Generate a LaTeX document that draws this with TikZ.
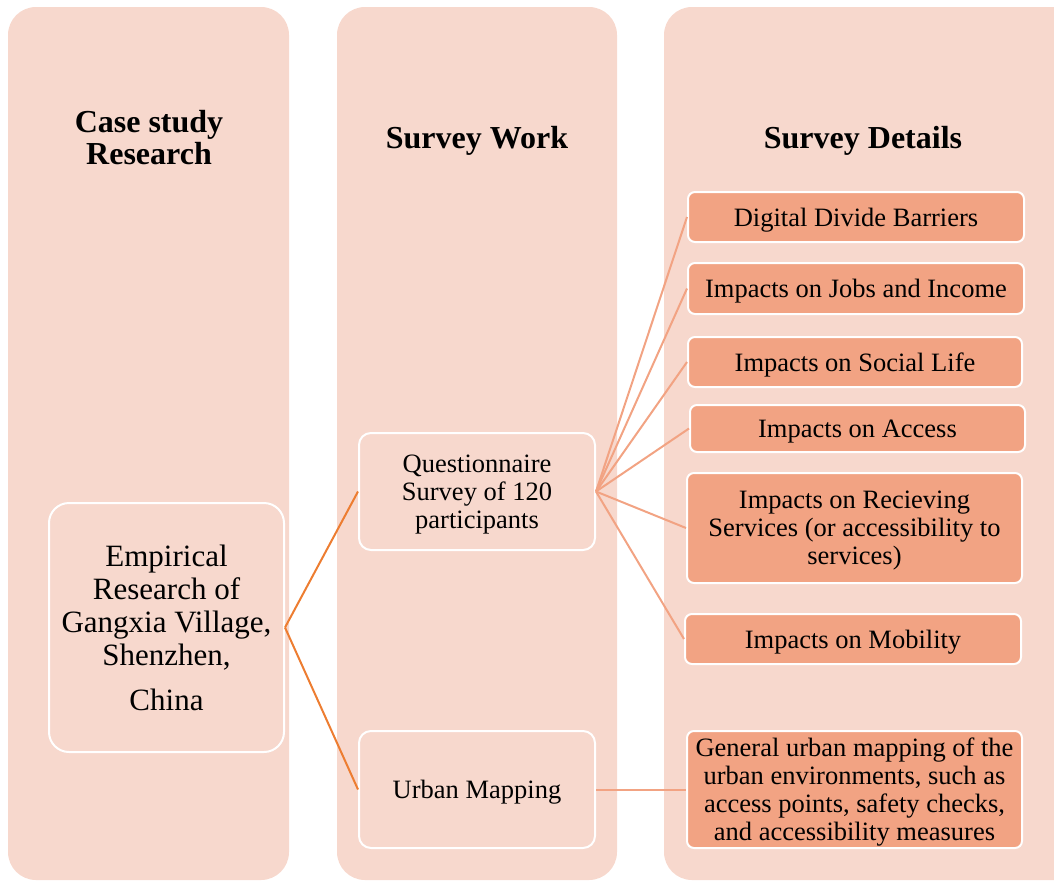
\documentclass[tikz,border=0pt]{standalone}
\usepackage{fontspec}
\setmainfont{Liberation Serif}
\definecolor{colfill}{HTML}{F7D8CD}
\definecolor{boxfill}{HTML}{F2A383}
\definecolor{linkorange}{HTML}{ED7D31}
\tikzset{
  column/.style={rectangle, rounded corners=28pt, fill=colfill, inner sep=0pt},
  headtext/.style={align=center, text depth=0pt, font=\fontsize{32}{32}\selectfont\bfseries},
  casebox/.style={rectangle, rounded corners=20pt, draw=white, line width=2pt, fill=colfill,
    align=center, inner sep=2pt, text depth=0pt, font=\fontsize{31}{33}\selectfont},
  workbox/.style={rectangle, rounded corners=12pt, draw=white, line width=2pt, fill=colfill,
    align=center, inner sep=2pt, text depth=0pt, font=\fontsize{26.5}{28}\selectfont},
  detailbox/.style={rectangle, rounded corners=7pt, draw=white, line width=2pt, fill=boxfill,
    align=center, inner sep=2pt, text depth=0pt, font=\fontsize{26.5}{28}\selectfont},
  mainline/.style={draw=linkorange, line width=2pt},
  fanline/.style={draw=boxfill, line width=2pt}
}
\begin{document}
\begin{tikzpicture}[x=1pt, y=-1pt]
\clip (0,0) rectangle (1054,881);
% background columns
\node[column, minimum width=281pt, minimum height=873pt] (col1) at (148.5,443.5){};
\node[column, minimum width=280pt, minimum height=873pt] (col2) at (477,443.5){};
\node[column, minimum width=420pt, minimum height=873pt] (col3) at (874,443.5){};
\node[headtext] (head1) at (149,137){Case study\\Research};
\node[headtext] (head2) at (477,137){Survey Work};
\node[headtext] (head3) at (863,137){Survey Details};
% case study
\node[casebox, minimum width=235pt, minimum height=249pt] (case) at (166.5,627.5)
  {Empirical\\Research of\\Gangxia Village,\\Shenzhen,\\[12pt]China};
% survey work
\node[workbox, minimum width=236pt, minimum height=117pt] (quest) at (477,491.5)
  {Questionnaire\\Survey of 120\\participants};
\node[workbox, minimum width=236pt, minimum height=117pt] (mapping) at (477,789.5)
  {Urban Mapping};
% survey details
\node[detailbox, minimum width=336pt, minimum height=50pt] (barriers) at (856,217){Digital Divide Barriers};
\node[detailbox, minimum width=336pt, minimum height=51pt] (jobs) at (856,288.5){Impacts on Jobs and Income};
\node[detailbox, minimum width=334pt, minimum height=50pt] (social) at (855,362){Impacts on Social Life};
\node[detailbox, minimum width=335pt, minimum height=47pt] (access) at (857.5,428.5){Impacts on Access};
\node[detailbox, minimum width=335pt, minimum height=110pt] (services) at (854.5,528)
  {Impacts on Recieving\\Services (or accessibility to\\services)};
\node[detailbox, minimum width=336pt, minimum height=50pt] (mobility) at (853,639){Impacts on Mobility};
\node[detailbox, minimum width=335pt, minimum height=117pt] (general) at (854.5,789.5)
  {General urban mapping of the\\urban environments, such as\\access points, safety checks,\\and accessibility measures};
% links
\draw[mainline](case.east) -- (quest.west);
\draw[mainline](case.east) -- (mapping.west);
\foreach \d in {barriers,jobs,social,access,services,mobility}
  \draw[fanline](quest.east) -- (\d.west);
\draw[fanline](mapping.east) -- (general.west);
\end{tikzpicture}
\end{document}
